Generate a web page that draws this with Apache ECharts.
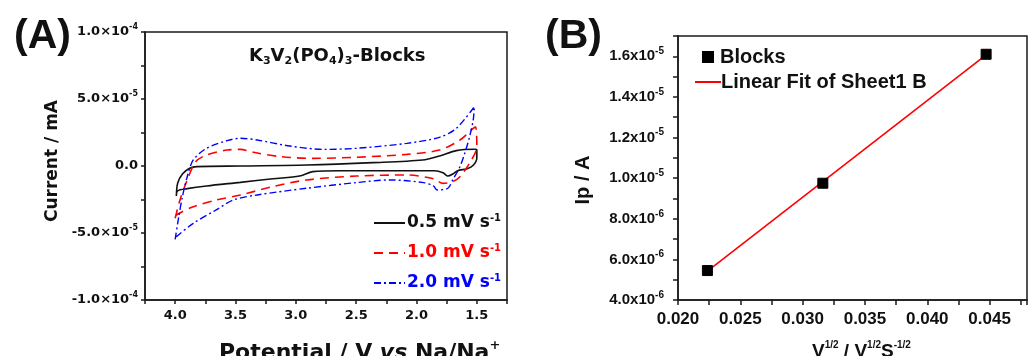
<!DOCTYPE html>
<html>
<head>
<meta charset="utf-8">
<script src="https://cdn.jsdelivr.net/npm/echarts@6/dist/echarts.min.js"></script>
<style>
html,body{margin:0;padding:0;background:#fff;}
#c{width:1030px;height:356px;}
</style>
</head>
<body>
<div id="c"></div>
<script>
// ---------- Panel A: cyclic voltammograms [potential V, current] ----------
const cv05 = [[3.99,-2.24e-5],[3.98,-1.3e-5],[3.94,-0.6e-5],[3.88,-0.17e-5],[3.82,-0.05e-5],[3.46,0.0],[2.91,0.07e-5],[2.36,0.25e-5],[1.95,0.45e-5],[1.81,0.75e-5],[1.67,1.15e-5],[1.52,1.25e-5],[1.5,1.2e-5],[1.5,0.6e-5],[1.53,0.05e-5],[1.58,-0.2e-5],[1.66,-0.35e-5],[1.7,-0.6e-5],[1.74,-0.75e-5],[1.78,-0.5e-5],[1.85,-0.35e-5],[2.08,-0.35e-5],[2.63,-0.35e-5],[2.86,-0.42e-5],[2.97,-0.75e-5],[3.19,-0.95e-5],[3.46,-1.22e-5],[3.74,-1.49e-5],[3.9,-1.69e-5],[3.98,-1.85e-5],[3.99,-2.24e-5]];
const cv10 = [[4.0,-3.9e-5],[3.96,-2.54e-5],[3.9,-1.04e-5],[3.83,0.32e-5],[3.74,0.82e-5],[3.57,1.19e-5],[3.46,1.24e-5],[3.35,1.02e-5],[3.13,0.7e-5],[2.86,0.57e-5],[2.5,0.65e-5],[2.08,0.87e-5],[1.81,1.19e-5],[1.64,1.94e-5],[1.53,2.81e-5],[1.51,2.9e-5],[1.5,1.44e-5],[1.56,0.22e-5],[1.64,-0.8e-5],[1.7,-1.17e-5],[1.78,-1.3e-5],[1.86,-0.95e-5],[2.08,-0.67e-5],[2.5,-0.75e-5],[2.91,-1.04e-5],[3.19,-1.54e-5],[3.46,-2.16e-5],[3.66,-2.54e-5],[3.85,-3.04e-5],[3.99,-3.66e-5],[4.0,-3.9e-5]];
const cv20 = [[4.0,-5.47e-5],[3.97,-3.78e-5],[3.94,-2.29e-5],[3.9,-0.8e-5],[3.85,0.45e-5],[3.74,1.32e-5],[3.57,1.89e-5],[3.46,2.07e-5],[3.32,1.94e-5],[3.05,1.49e-5],[2.77,1.24e-5],[2.5,1.32e-5],[2.08,1.69e-5],[1.81,2.14e-5],[1.67,2.81e-5],[1.52,4.43e-5],[1.53,3.43e-5],[1.56,2.19e-5],[1.6,0.95e-5],[1.64,-0.05e-5],[1.7,-1.04e-5],[1.74,-1.66e-5],[1.83,-1.79e-5],[1.86,-1.49e-5],[1.94,-1.24e-5],[2.22,-1.04e-5],[2.5,-1.24e-5],[2.91,-1.66e-5],[3.32,-2.16e-5],[3.52,-2.54e-5],[3.66,-3.28e-5],[3.85,-4.28e-5],[3.99,-5.28e-5],[4.0,-5.47e-5]];
const legendA = ['0.5 mV s-1','1.0 mV s-1','2.0 mV s-1'];
const xTicksA = [4.0,3.5,3.0,2.5,2.0,1.5];
const xLabelsA = ['4.0','3.5','3.0','2.5','2.0','1.5'];
const yTicksA = [-1e-4,-5e-5,0,5e-5,1e-4];
const yLabelsA = ['-1.0×10{sup|-4}','-5.0×10{sup|-5}','0.0','5.0×10{sup|-5}','1.0×10{sup|-4}'];

// ---------- Panel B: peak current vs sqrt(scan rate) ----------
const sqrtV = [0.02236,0.03162,0.04472];
const ipBlocks = [5.45e-6,9.75e-6,1.61e-5];
const fitX = [0.02236,0.04472];
const fitY = [5.42e-6,1.607e-5];
const xTicksB = [0.020,0.025,0.030,0.035,0.040,0.045];
const xLabelsB = ['0.020','0.025','0.030','0.035','0.040','0.045'];
const yTicksB = [4e-6,6e-6,8e-6,1e-5,1.2e-5,1.4e-5,1.6e-5];
const yLabelsB = ['4.0x10{sup|-6}','6.0x10{sup|-6}','8.0x10{sup|-6}','1.0x10{sup|-5}','1.2x10{sup|-5}','1.4x10{sup|-5}','1.6x10{sup|-5}'];

function pick(ticks, labels, tol){
  return function(v){
    for (let i=0;i<ticks.length;i++){ if (Math.abs(v-ticks[i])<tol) return labels[i]; }
    return '';
  };
}
const FA = 'DejaVu Sans';
const FB = 'Liberation Sans';
const AX = '#1a1a1a';

const chart = echarts.init(document.getElementById('c'), null, {renderer:'canvas'});
const supA = {fontSize:8, lineHeight:10, verticalAlign:'top', fontFamily:FA, fontWeight:'bold', color:'#111'};
const supB = {fontSize:10, lineHeight:10, verticalAlign:'top', fontFamily:FB, fontWeight:'bold', color:'#111'};
function axisLineStyle(){ return {show:true, onZero:false, lineStyle:{color:AX, width:1.5}}; }
const hiddenMarker = {color:'rgba(0,0,0,0)', borderColor:'rgba(0,0,0,0)', borderWidth:0, opacity:0};

chart.setOption({
  animation:false,
  backgroundColor:'#fff',
  title:[
    {text:'(A)', left:9, top:11, textStyle:{fontFamily:FB, fontWeight:'bold', fontSize:41, color:'#111'}},
    {text:'(B)', left:540, top:11, textStyle:{fontFamily:FB, fontWeight:'bold', fontSize:41, color:'#111'}},
    {text:'K{sub|3}V{sub|2}(PO{sub|4}){sub|3}-Blocks', left:244, top:40,
     textStyle:{fontFamily:FA, fontWeight:'bold', fontSize:18, lineHeight:22, color:'#111',
       rich:{sub:{fontFamily:FA, fontWeight:'bold', fontSize:11, lineHeight:12, verticalAlign:'bottom', color:'#111'}}}},
    {text:'Potential / V {it|vs} Na/Na{sup|+}', left:214, top:334,
     textStyle:{fontFamily:FA, fontWeight:'bold', fontSize:22, lineHeight:28, color:'#111',
       rich:{it:{fontFamily:FA, fontWeight:'bold', fontStyle:'italic', fontSize:22, color:'#111'},
             sup:{fontFamily:FA, fontWeight:'bold', fontSize:13, lineHeight:14, verticalAlign:'top', color:'#111'}}}},
    {text:'V{sup|1/2} / V{sup|1/2}S{sup|-1/2}', left:807, top:335,
     textStyle:{fontFamily:FB, fontWeight:'bold', fontSize:19, lineHeight:24, color:'#111',
       rich:{sup:{fontFamily:FB, fontWeight:'bold', fontSize:10, lineHeight:11, verticalAlign:'top', color:'#111'}}}}
  ],
  legend:[
    {data:legendA.map(function(n,i){return {name:n, itemStyle:hiddenMarker, textStyle:{color:['#111','#ff0000','#0000ff'][i]}};}),
     orient:'vertical', left:368, top:208, itemWidth:31, itemHeight:14, itemGap:10,
     itemStyle:hiddenMarker,
     formatter:function(n){return n.replace(' s-1',' s{sup|-1}');},
     textStyle:{fontFamily:FA, fontWeight:'bold', fontSize:17, lineHeight:20, padding:[0,0,0,-3],
       rich:{sup:{fontFamily:FA, fontWeight:'bold', fontSize:10, lineHeight:10, verticalAlign:'top'}}}},
    {data:[{name:'Blocks', icon:'rect'}], orient:'vertical', left:697, top:42, itemWidth:10, itemHeight:10,
     textStyle:{fontFamily:FB, fontWeight:'bold', fontSize:20, color:'#111', padding:[0,0,0,2]}},
    {data:[{name:'Linear Fit of Sheet1 B', itemStyle:hiddenMarker}], orient:'vertical', left:689, top:67, itemWidth:26, itemHeight:14,
     itemStyle:hiddenMarker,
     textStyle:{fontFamily:FB, fontWeight:'bold', fontSize:20, color:'#111', padding:[0,0,0,-5]}}
  ],
  grid:[
    {left:145, top:32, width:362, height:268, show:true, borderColor:AX, borderWidth:1.5, backgroundColor:'transparent'},
    {left:678, top:36, width:364, height:264, show:true, borderColor:AX, borderWidth:1.5, backgroundColor:'transparent'}
  ],
  xAxis:[
    {gridIndex:0, type:'value', inverse:true, min:1.25, max:4.25, interval:0.25,
     axisLine:axisLineStyle(),
     axisTick:{show:true, inside:false, length:4, lineStyle:{color:AX, width:1.5}},
     splitLine:{show:false},
     axisLabel:{margin:9, formatter:pick(xTicksA,xLabelsA,1e-6), fontFamily:FA, fontWeight:'bold', fontSize:13, color:'#111'}},
    {gridIndex:1, type:'value', min:0.020, max:0.048, interval:0.0025,
     axisLine:axisLineStyle(),
     axisTick:{show:true, inside:false, length:5, lineStyle:{color:AX, width:1.5}},
     splitLine:{show:false},
     axisLabel:{margin:11, formatter:pick(xTicksB,xLabelsB,1e-7), fontFamily:FB, fontWeight:'bold', fontSize:17, color:'#111'}}
  ],
  yAxis:[
    {gridIndex:0, type:'value', min:-1e-4, max:1e-4, interval:2.5e-5,
     name:'Current / mA', nameLocation:'middle', nameGap:84, nameRotate:90,
     nameTextStyle:{fontFamily:FA, fontWeight:'bold', fontSize:17, color:'#111', padding:[0,0,0,10]},
     axisLine:axisLineStyle(),
     axisTick:{show:true, inside:false, length:4, lineStyle:{color:AX, width:1.5}},
     splitLine:{show:false},
     axisLabel:{margin:7, formatter:pick(yTicksA,yLabelsA,1e-9), fontFamily:FA, fontWeight:'bold', fontSize:13, lineHeight:18, color:'#111', rich:{sup:supA}}},
    {gridIndex:1, type:'value', min:4e-6, max:1.7e-5, interval:1e-6,
     name:'Ip / A', nameLocation:'middle', nameGap:85, nameRotate:90,
     nameTextStyle:{fontFamily:FB, fontWeight:'bold', fontSize:20, color:'#111', padding:[0,24,0,0]},
     axisLine:axisLineStyle(),
     axisTick:{show:true, inside:false, length:5, lineStyle:{color:AX, width:1.5}},
     splitLine:{show:false},
     axisLabel:{margin:14, formatter:pick(yTicksB,yLabelsB,1e-10), fontFamily:FB, fontWeight:'bold', fontSize:15, lineHeight:20, color:'#111', rich:{sup:supB}}}
  ],
  series:[
    {name:legendA[0], type:'line', xAxisIndex:0, yAxisIndex:0, data:cv05, smooth:0.3, symbol:'none',
     itemStyle:{color:'#111'}, lineStyle:{color:'#111', width:1.6, type:'solid'}},
    {name:legendA[1], type:'line', xAxisIndex:0, yAxisIndex:0, data:cv10, smooth:0.3, symbol:'none',
     itemStyle:{color:'#ff0000'}, lineStyle:{color:'#ff0000', width:1.6, type:[9,6]}},
    {name:legendA[2], type:'line', xAxisIndex:0, yAxisIndex:0, data:cv20, smooth:0.3, symbol:'none',
     itemStyle:{color:'#0000ff'}, lineStyle:{color:'#0000ff', width:1.4, type:[7,3,2,3]}},
    {name:'Linear Fit of Sheet1 B', type:'line', xAxisIndex:1, yAxisIndex:1, z:2,
     data:fitX.map(function(x,i){return [x, fitY[i]];}), symbol:'none',
     itemStyle:{color:'#ff0000'}, lineStyle:{color:'#ff0000', width:1.6}},
    {name:'Blocks', type:'scatter', xAxisIndex:1, yAxisIndex:1, z:3,
     data:sqrtV.map(function(x,i){return [x, ipBlocks[i]];}), symbol:'rect', symbolSize:10,
     itemStyle:{color:'#000', opacity:1, borderColor:'#000', borderWidth:1}}
  ]
});
</script>
</body>
</html>
